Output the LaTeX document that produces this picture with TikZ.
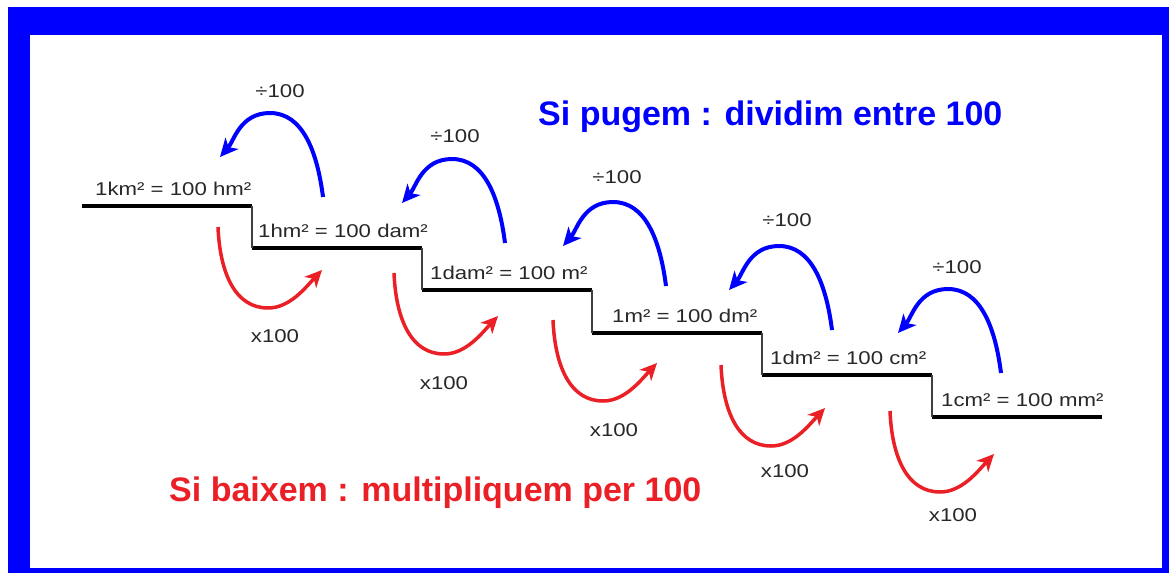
\documentclass[tikz,border=0pt]{standalone}
\usepackage{fontspec}
\setmainfont{Liberation Sans}
\newfontfamily\labfont[FakeStretch=1.2]{Liberation Sans}
\usetikzlibrary{arrows.meta}
\definecolor{myblue}{RGB}{0,0,255}
\definecolor{myred}{RGB}{235,32,39}
\definecolor{txtgray}{RGB}{40,40,40}
\begin{document}
\begin{tikzpicture}[x=1pt,y=-1pt,
  lab/.style={font=\labfont\fontsize{18.5}{20}\selectfont, text=txtgray, inner sep=0pt},
  steplab/.style={lab, anchor=base west},
  title/.style={font=\bfseries\fontsize{34}{36}\selectfont, inner sep=0pt, anchor=base west},
  stair/.style={line width=3.5pt, black},
  riser/.style={line width=1.5pt, black!75},
  uparrow/.style={myblue, line width=4pt, -{Stealth[length=18pt,width=17pt,inset=5pt]}},
  downarrow/.style={myred, line width=3.5pt, -{Stealth[length=17pt,width=16pt,inset=5pt]}},
]
\useasboundingbox (0,0) rectangle (1169,573);
\fill[white] (0,0) rectangle (1169,573);
\fill[myblue] (8,7) rectangle (1169,573);
\fill[white] (30,35) rectangle (1162,568);

% stairs
\foreach \x/\y in {82/206,252/248,422/290,592/333,762/375,932/417}
  \draw[stair] (\x,\y) -- (\x+170,\y);
\foreach \x/\ya/\yb in {252/206/248,422/248/290,592/290/333,762/333/375,932/375/417}
  \draw[riser] (\x,\ya) -- (\x,\yb);

% step labels
\node[steplab] (l1) at (95,195) {1km² = 100 hm²};
\node[steplab] (l2) at (258,237) {1hm² = 100 dam²};
\node[steplab] (l3) at (430,279) {1dam² = 100 m²};
\node[steplab] (l4) at (612,322) {1m² = 100 dm²};
\node[steplab] (l5) at (770,364) {1dm² = 100 cm²};
\node[steplab] (l6) at (941,406) {1cm² = 100 mm²};

% blue arrows (going up)
\foreach \n/\dx/\dy in {1/0/0,2/182/46,3/343/89,4/509/133,5/678/176}{
  \begin{scope}[shift={(\dx,\dy)}]
    \coordinate (bs\n) at (323,197);
    \coordinate (bp\n) at (270,113);
    \coordinate (bt\n) at (220,157);
    \draw[uparrow] (bs\n) .. controls +(-6,-47) and +(32,0) .. (bp\n)
                          .. controls +(-30,0) and +(14,-16) .. (bt\n);
  \end{scope}
}
% red arrows (going down)
\foreach \n/\dx/\dy in {1/0/0,2/176/46,3/335/93,4/503/138,5/672/184}{
  \begin{scope}[shift={(\dx,\dy)}]
    \coordinate (rs\n) at (218,227);
    \coordinate (rb\n) at (268,308);
    \coordinate (rt\n) at (322,270);
    \draw[downarrow] (rs\n) .. controls +(2,48) and +(-32,0) .. (rb\n)
                            .. controls +(22,0) and +(-16,17) .. (rt\n);
  \end{scope}
}

% operation labels
\foreach \n/\x/\y in {1/280/91,2/455/136,3/617/177,4/787/220,5/957/267}
  \node[lab] (d\n) at (\x,\y) {÷100};
\foreach \n/\x/\y in {1/275/336,2/444/383,3/614/430,4/785/471,5/953/515}
  \node[lab] (m\n) at (\x,\y) {x100};

% titles
\node[title, text=myblue] (t1) at (538,125) {Si pugem : dividim entre 100};
\node[title, text=myred] (t2) at (169,501) {Si baixem : multipliquem per 100};
\end{tikzpicture}
\end{document}
